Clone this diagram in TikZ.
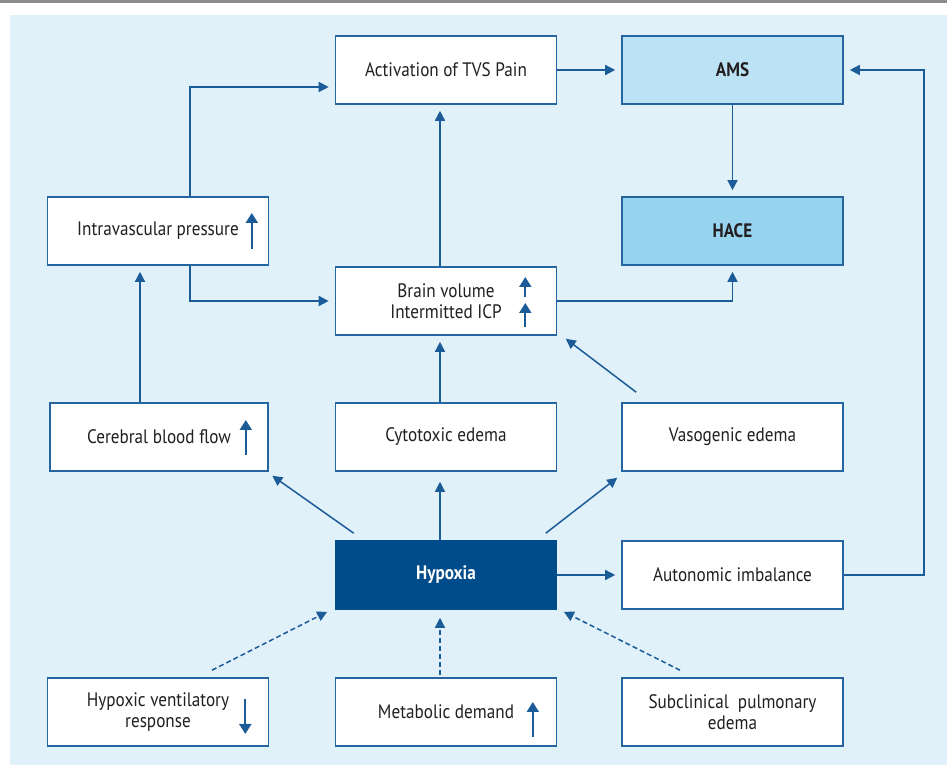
\documentclass[tikz,border=0pt]{standalone}
\usepackage{fontspec}
\setmainfont{PT Sans}[FakeStretch=0.88]
\usetikzlibrary{arrows.meta}

\definecolor{bgblue}{HTML}{E1F1FA}
\definecolor{lineblue}{HTML}{1B5C98}
\definecolor{boxline}{HTML}{2566A0}
\definecolor{amsfill}{HTML}{BCE3F5}
\definecolor{hacefill}{HTML}{96D4F0}
\definecolor{hypfill}{HTML}{004C8A}
\definecolor{txtgray}{HTML}{231F20}

\tikzset{
  box/.style={rectangle, draw=boxline, line width=1.6pt, fill=white,
    minimum width=221pt, minimum height=68pt, inner sep=0pt, align=center,
    text=txtgray, font=\fontsize{19.5}{21}\selectfont},
  boldbox/.style={box, font=\bfseries\fontsize{19.5}{21}\selectfont},
  conn/.style={draw=lineblue, line width=1.5pt, shorten >=6pt,
    -{Triangle[length=10pt,width=10pt]}},
  dconn/.style={conn, dash pattern=on 5pt off 3pt},
  updown/.style={draw=lineblue, line width=2pt,
    -{Triangle[length=10pt,width=12pt]}}
}

\begin{document}
\begin{tikzpicture}[x=1pt, y=1pt]
\useasboundingbox (0,0) rectangle (947,765);
\fill [bgblue] (10,0) rectangle (947,750);
\fill [black!45] (0,762) rectangle (947,765);

% top row
\node [box] (act) at (446,695) {Activation of TVS Pain};
\node [boldbox, fill=amsfill] (ams) at (732.5,695) {AMS};
\node [boldbox, fill=hacefill] (hace) at (732.5,534) {HACE};
\node [box] (ivp) at (158,534) {Intravascular pressure};
\node [box] (brain) at (446,464) {Brain volume\\Intermitted ICP};

% edema row
\node [box, minimum width=218pt] (cbf) at (159,328) {Cerebral blood flow};
\node [box] (cyto) at (446,328) {Cytotoxic edema};
\node [box] (vaso) at (732.5,328) {Vasogenic edema};

% hypoxia row
\node [boldbox, fill=hypfill, draw=hypfill, text=white] (hyp) at (446,190) {Hypoxia};
\node [box] (auto) at (732.5,190) {Autonomic imbalance};

% bottom row
\node [box] (hvr) at (158,53) {Hypoxic ventilatory\\response};
\node [box] (meta) at (446,53) {Metabolic demand};
\node [box] (sub) at (732.5,53) {Subclinical\ \ pulmonary\\edema};

\coordinate (ivpx) at (190,0);
\coordinate (cbfx) at (140,0);
\coordinate (midx) at (440,0);

% arrows inside the boxes
\draw [updown] ([xshift=-17.5pt,yshift=-18pt]ivp.east) -- ++(0,36);
\draw [updown] ([xshift=-23pt,yshift=-18pt]cbf.east) -- ++(0,35);
\draw [updown] ([xshift=-32pt,yshift=4pt]brain.east) -- ++(0,20);
\draw [updown] ([xshift=-32pt,yshift=-26pt]brain.east) -- ++(0,24);
\draw [updown] ([xshift=-24pt,yshift=13pt]hvr.east) -- ++(0,-35);
\draw [updown] ([xshift=-24.5pt,yshift=-25pt]meta.east) -- ++(0,35);

% connectors
\draw [conn] (act) -- (ams);
\draw [conn] (ams) -- (hace);
\draw [conn] (ivp.north -| ivpx) |- ([yshift=-17pt]act.west);
\draw [conn] (ivp.south -| ivpx) |- (brain.west);
\draw [conn] (brain.north -| midx) -- (act.south -| midx);
\draw [conn] (brain.east) -| (hace.south);
\draw [conn] (cbf.north -| cbfx) -- (ivp.south -| cbfx);
\draw [conn] (cyto.north -| midx) -- (brain.south -| midx);
\draw [conn, shorten >=0pt] ([xshift=15pt,yshift=10pt]vaso.north west) -- ([xshift=8.5pt,yshift=-3pt]brain.south east);

\draw [conn, shorten >=0pt] ([xshift=19pt,yshift=7pt]hyp.north west) -- ([xshift=3.5pt,yshift=-4pt]cbf.south east);
\draw [conn, shorten >=10pt] (hyp.north -| midx) -- (cyto.south -| midx);
\draw [conn, shorten >=0pt] ([xshift=-11.5pt,yshift=7pt]hyp.north east) -- ([xshift=-4pt,yshift=-6pt]vaso.south west);
\draw [conn] (hyp) -- (auto);
\draw [conn] (auto.east) -- ++(80,0) |- (ams.east);

\draw [dconn, shorten >=0pt] ([xshift=54pt,yshift=7pt]hvr.north) -- ([xshift=-7.5pt,yshift=-2pt]hyp.south west);
\draw [dconn, shorten <=2pt, shorten >=8pt] (meta.north -| midx) -- (hyp.south -| midx);
\draw [dconn, shorten >=0pt] ([xshift=-52.5pt,yshift=7pt]sub.north) -- ([xshift=6.5pt,yshift=-2pt]hyp.south east);
\end{tikzpicture}
\end{document}
